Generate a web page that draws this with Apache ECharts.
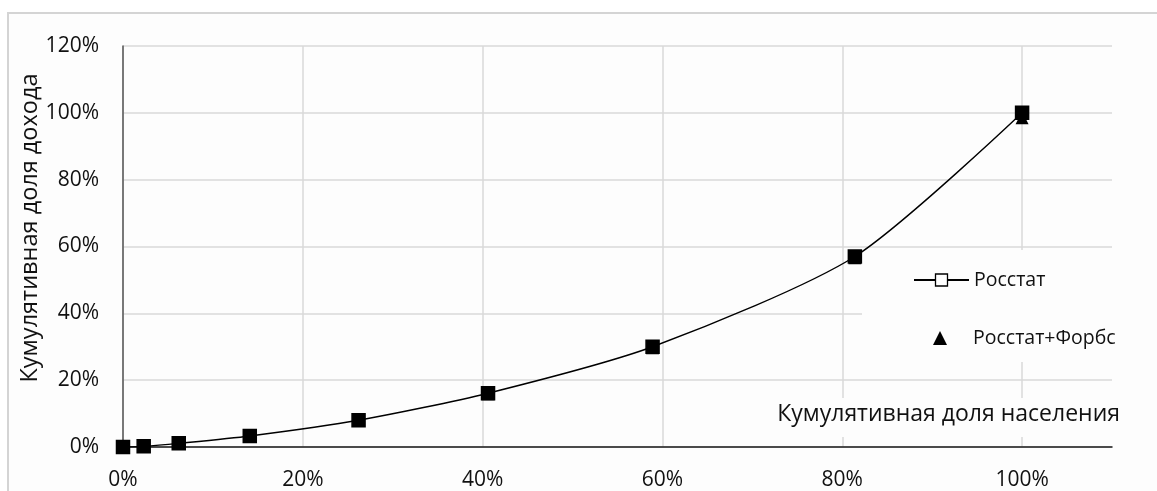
<!DOCTYPE html>
<html>
<head>
<meta charset="utf-8">
<script src="https://cdn.jsdelivr.net/npm/echarts@6/dist/echarts.min.js"></script>
<style>
html,body{margin:0;padding:0;background:#fff;}
#chart{width:1157px;height:491px;}
</style>
</head>
<body>
<div id="chart"></div>
<script>
// Cumulative population share (x) and cumulative income share (y)
const populationShare = [0, 0.023, 0.062, 0.141, 0.262, 0.406, 0.589, 0.814, 1.0];
const rosstat = [0, 0.002, 0.011, 0.033, 0.080, 0.161, 0.300, 0.570, 1.0];
const rosstatForbes = [0, 0.002, 0.011, 0.032, 0.079, 0.159, 0.297, 0.566, 0.985];
const seriesNames = ['Росстат', 'Росстат+Форбс'];
const xAxisTitle = 'Кумулятивная доля населения';
const yAxisTitle = 'Кумулятивная доля дохода';

const pct = v => Math.round(v * 100) + '%';
const FONT = 'Open Sans';
const TXT = '#111111';

const chart = echarts.init(document.getElementById('chart'));
chart.setOption({
  backgroundColor: '#ffffff',
  animation: false,
  textStyle: { fontFamily: FONT },
  grid: { left: 123, right: 45, top: 46, bottom: 42, containLabel: false },
  xAxis: {
    type: 'value', min: 0, max: 1.1, interval: 0.2,
    axisLine: { show: true, onZero: false, lineStyle: { color: '#1a1a1a', width: 1.5 } },
    axisTick: { show: false },
    axisLabel: {
      margin: 23, fontSize: 21, color: TXT, fontFamily: FONT,
      formatter: v => (v > 1.0001 ? '' : pct(v))
    },
    splitLine: { show: true, lineStyle: { color: ['#d9d9d9','#d9d9d9','#d9d9d9','#d9d9d9','#d9d9d9','#d9d9d9','rgba(0,0,0,0)'], width: 1.5 } }
  },
  yAxis: {
    type: 'value', min: 0, max: 1.2, interval: 0.2,
    axisLine: { show: true, lineStyle: { color: '#555555', width: 1.5 } },
    axisTick: { show: false },
    axisLabel: { margin: 24, fontSize: 21, color: TXT, fontFamily: FONT, formatter: pct },
    splitLine: { show: true, lineStyle: { color: '#d9d9d9', width: 1.5 } }
  },
  legend: [
    {
      orient: 'vertical', left: 908, top: 265,
      itemWidth: 55, itemHeight: 15,
      textStyle: { fontSize: 19.5, lineHeight: 20, color: TXT, fontFamily: FONT },
      data: [{ name: seriesNames[0], itemStyle: { color: '#ffffff', borderColor: '#000', borderWidth: 1.3 } }]
    },
    {
      orient: 'vertical', left: 928, top: 323,
      itemWidth: 14, itemHeight: 14,
      textStyle: { fontSize: 19.5, lineHeight: 20, color: TXT, fontFamily: FONT, padding: [0, 0, 0, 21] },
      data: [{ name: seriesNames[1], icon: 'triangle', itemStyle: { color: '#000', opacity: 1 } }]
    }
  ],
  graphic: [
    { type: 'rect', z: -10, silent: true, shape: { x: 8, y: 13, width: 1170, height: 500 },
      style: { fill: '#fdfdfd', stroke: '#d4d4d4', lineWidth: 2 } },
    { type: 'rect', z: 1, silent: true, shape: { x: 862, y: 250, width: 262, height: 112 },
      style: { fill: '#fdfdfd' } },
    { type: 'rect', z: 1, silent: true, shape: { x: 772, y: 398, width: 351, height: 39 },
      style: { fill: '#fdfdfd' } },
    { type: 'text', z: 3, silent: true, right: 37, top: 403,
      style: { text: xAxisTitle, fontSize: 23, fill: TXT, fontFamily: FONT } },
    { type: 'text', z: 3, silent: true, x: 30, y: 228, rotation: Math.PI / 2,
      style: { text: yAxisTitle, fontSize: 23.5, fill: TXT, fontFamily: FONT, align: 'center', verticalAlign: 'middle' } }
  ],
  series: [
    {
      name: seriesNames[0], type: 'line', smooth: 0.25, z: 2,
      data: populationShare.map((x, i) => [x, rosstat[i]]),
      symbol: 'rect', symbolSize: 13,
      lineStyle: { color: '#000', width: 1.4 },
      itemStyle: { color: '#000', borderColor: '#000', borderWidth: 1.5 }
    },
    {
      name: seriesNames[1], type: 'scatter', z: 3,
      data: populationShare.map((x, i) => [x, rosstatForbes[i]]),
      symbol: 'triangle', symbolSize: 13,
      itemStyle: { color: '#000', opacity: 1 }
    }
  ]
});
</script>
</body>
</html>
